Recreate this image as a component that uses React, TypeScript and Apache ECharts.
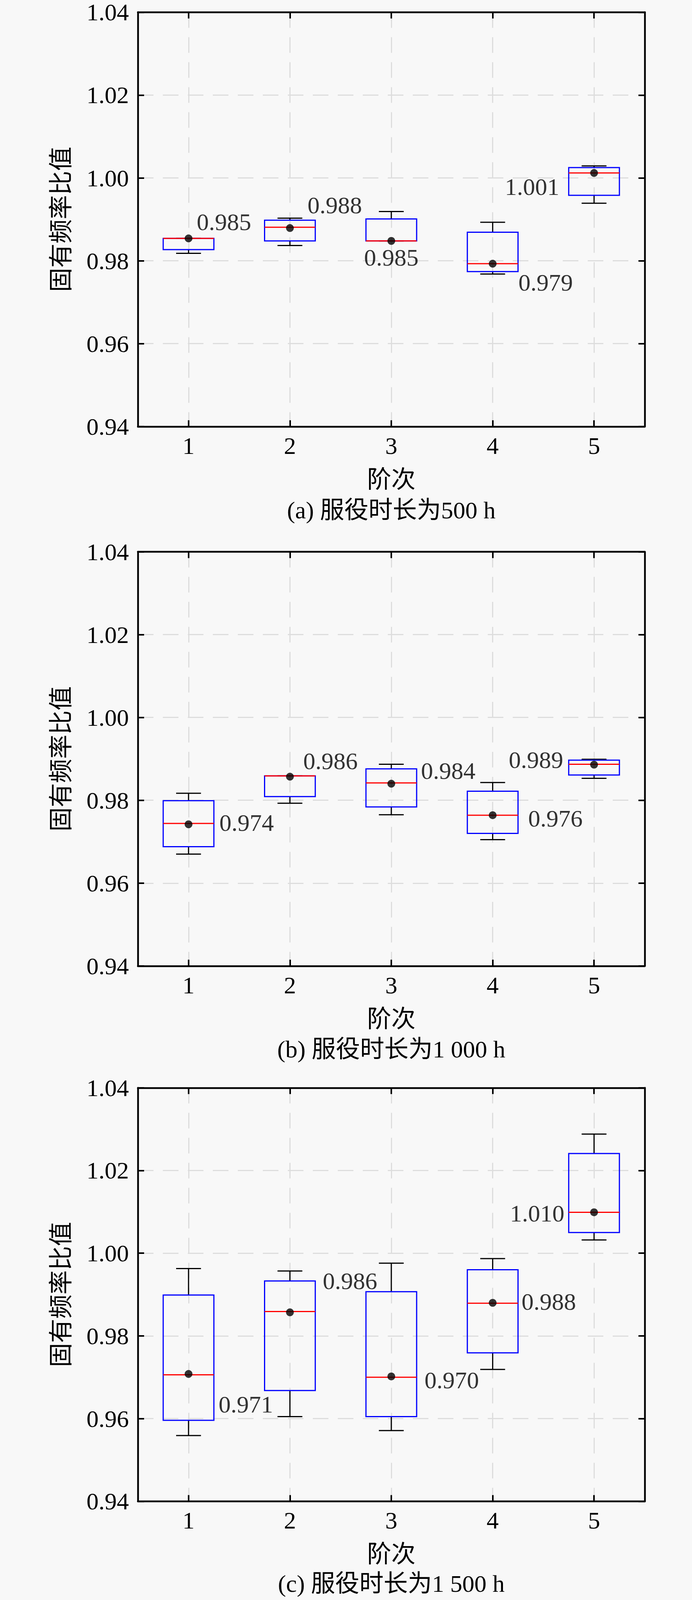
import React, { useEffect, useRef } from 'react';
import * as echarts from 'echarts';

// ---------------- data ----------------
const CATEGORIES = ['1', '2', '3', '4', '5'];
const Y_MIN = 0.94;
const Y_MAX = 1.04;
const Y_STEP = 0.02;

// (a) 500 h
const A_MIN = [0.9818, 0.9837, 0.9848, 0.9768, 0.9939];
const A_Q1 = [0.9827, 0.9848, 0.9848, 0.9774, 0.9958];
const A_MED = [0.9854, 0.9881, 0.9848, 0.9793, 1.0012];
const A_Q3 = [0.9854, 0.9898, 0.9901, 0.9869, 1.0025];
const A_MAX = [0.9854, 0.9903, 0.9919, 0.9893, 1.0029];
const A_MEAN = [0.9854, 0.9879, 0.9848, 0.9793, 1.0012];

// (b) 1 000 h
const B_MIN = [0.967, 0.9793, 0.9765, 0.9705, 0.9853];
const B_Q1 = [0.9688, 0.9809, 0.9784, 0.972, 0.9861];
const B_MED = [0.9744, 0.9859, 0.9842, 0.9764, 0.9887];
const B_Q3 = [0.9799, 0.9859, 0.9876, 0.9822, 0.9897];
const B_MAX = [0.9817, 0.9859, 0.9887, 0.9843, 0.9899];
const B_MEAN = [0.9742, 0.9857, 0.984, 0.9764, 0.9886];

// (c) 1 500 h
const C_MIN = [0.9559, 0.9605, 0.9571, 0.9719, 1.0032];
const C_Q1 = [0.9596, 0.9668, 0.9605, 0.9759, 1.005];
const C_MED = [0.9706, 0.9859, 0.97, 0.9879, 1.0099];
const C_Q3 = [0.9899, 0.9933, 0.9907, 0.996, 1.0241];
const C_MAX = [0.9963, 0.9957, 0.9976, 0.9987, 1.0288];
const C_MEAN = [0.9708, 0.9857, 0.9702, 0.988, 1.0099];

const CAPTIONS = ['(a) 服役时长为500 h', '(b) 服役时长为1 000 h', '(c) 服役时长为1 500 h'];
const X_NAME = '阶次';
const Y_NAME = '固有频率比值';

const PANELS = [
  { min: A_MIN, q1: A_Q1, med: A_MED, q3: A_Q3, max: A_MAX, mean: A_MEAN },
  { min: B_MIN, q1: B_Q1, med: B_MED, q3: B_Q3, max: B_MAX, mean: B_MEAN },
  { min: C_MIN, q1: C_Q1, med: C_MED, q3: C_Q3, max: C_MAX, mean: C_MEAN },
];

// ---------------- layout / style (reference pixel units) ----------------
const W = 1772;
const REF_H = 4378;
const GRID_LEFT = 353;
const GRID_WIDTH = 1298;
const GRID_TOPS = [33.5, 1510, 2976.5];
const GRID_HEIGHTS = [1133.5, 1133, 1131.5];
const CAPTION_Y = [1396, 2871, 4333];
const X_NAME_CENTER = 139; // distance from x axis to centre of x-axis name
const CENTER_X = GRID_LEFT + GRID_WIDTH / 2;

// label anchor: [align, dx, dy] relative to the mean dot
const LABEL_LAYOUT: [string, number, number][][] = [
  [['left', 21, -45], ['left', 45, -63], ['center', 0, 45], ['left', 66, 51], ['right', -89, 38]],
  [['left', 79, -5], ['left', 34, -43], ['left', 76, -36], ['left', 91, 9], ['right', -79, -13]],
  [['left', 77, 83], ['left', 84, -86], ['left', 85, 10], ['left', 74, -4], ['right', -76, 3]],
];

const SERIF = "'Liberation Serif', 'Times New Roman', serif";
const CJK = "'Noto Sans CJK SC', sans-serif";
const MIXED = "'Liberation Serif', 'Noto Sans CJK SC', serif";
const FS = 62;
const BG = '#f8f8f8';
const GRID_COLOR = '#dddddd';
const AXIS_W = 4.5;
const LINE_W = 3;

function renderBox(params: any, api: any) {
  const i = api.value(0);
  const lo = api.coord([i, api.value(1)]);
  const q1 = api.coord([i, api.value(2)]);
  const med = api.coord([i, api.value(3)]);
  const q3 = api.coord([i, api.value(4)]);
  const hi = api.coord([i, api.value(5)]);
  const band = api.size([1, 0])[0];
  const bw = band * 0.5;
  const cw = band * 0.245;
  const x = q1[0];
  const black = { stroke: '#000', lineWidth: LINE_W };
  return {
    type: 'group',
    children: [
      { type: 'line', shape: { x1: x, y1: q1[1], x2: x, y2: lo[1] }, style: black },
      { type: 'line', shape: { x1: x - cw / 2, y1: lo[1], x2: x + cw / 2, y2: lo[1] }, style: black },
      { type: 'line', shape: { x1: x, y1: q3[1], x2: x, y2: hi[1] }, style: black },
      { type: 'line', shape: { x1: x - cw / 2, y1: hi[1], x2: x + cw / 2, y2: hi[1] }, style: black },
      {
        type: 'rect',
        shape: { x: x - bw / 2, y: q3[1], width: bw, height: q1[1] - q3[1] },
        style: { fill: 'none', stroke: '#0000ff', lineWidth: LINE_W },
      },
      {
        type: 'line',
        shape: { x1: x - bw / 2, y1: med[1], x2: x + bw / 2, y2: med[1] },
        style: { stroke: '#ff0000', lineWidth: LINE_W },
      },
    ],
  };
}

function buildOption(sy: number) {
  const grid: any[] = [];
  const xAxis: any[] = [];
  const yAxis: any[] = [];
  const series: any[] = [];
  const graphic: any[] = [];
  const axisLine = { show: true, onZero: false, lineStyle: { color: '#000', width: AXIS_W } };
  const axisTick = { show: true, inside: true, length: 16, lineStyle: { color: '#000', width: 4 } };
  const splitLine = { show: true, lineStyle: { color: GRID_COLOR, width: 3, type: [40, 24] } };

  PANELS.forEach((p, k) => {
    grid.push({
      left: GRID_LEFT,
      top: GRID_TOPS[k] * sy,
      width: GRID_WIDTH,
      height: GRID_HEIGHTS[k] * sy,
      containLabel: false,
    });
    xAxis.push({
      type: 'category',
      gridIndex: k,
      data: CATEGORIES,
      position: 'bottom',
      boundaryGap: true,
      axisLine,
      axisTick: { ...axisTick, alignWithLabel: true },
      axisLabel: {
        show: true,
        margin: 19 * sy,
        fontSize: FS,
        lineHeight: FS,
        fontFamily: SERIF,
        color: '#000',
      },
      splitLine: { ...splitLine, alignWithLabel: true },
      name: X_NAME,
      nameLocation: 'middle',
      nameGap: X_NAME_CENTER * sy - FS / 2,
      nameTextStyle: { fontSize: FS, lineHeight: FS, fontFamily: CJK, color: '#000' },
    });
    xAxis.push({
      type: 'category',
      gridIndex: k,
      data: CATEGORIES,
      position: 'top',
      boundaryGap: true,
      axisLine,
      axisTick: { ...axisTick, alignWithLabel: true },
      axisLabel: { show: false },
      splitLine: { show: false },
    });
    yAxis.push({
      type: 'value',
      gridIndex: k,
      min: Y_MIN,
      max: Y_MAX,
      interval: Y_STEP,
      position: 'left',
      axisLine,
      axisTick,
      axisLabel: {
        show: true,
        margin: 23,
        fontSize: FS,
        lineHeight: 48,
        fontFamily: SERIF,
        color: '#000',
        formatter: (v: number) => v.toFixed(2),
      },
      splitLine,
      name: Y_NAME,
      nameLocation: 'middle',
      nameRotate: 90,
      nameGap: 171,
      nameTextStyle: { fontSize: FS, lineHeight: FS, fontFamily: CJK, color: '#000' },
    });
    yAxis.push({
      type: 'value',
      gridIndex: k,
      min: Y_MIN,
      max: Y_MAX,
      interval: Y_STEP,
      position: 'right',
      axisLine,
      axisTick,
      axisLabel: { show: false },
      splitLine: { show: false },
    });
    series.push({
      type: 'custom',
      xAxisIndex: 2 * k,
      yAxisIndex: 2 * k,
      renderItem: renderBox,
      silent: true,
      z: 3,
      encode: { x: 0, y: [1, 2, 3, 4, 5] },
      data: CATEGORIES.map((_, i) => [i, p.min[i], p.q1[i], p.med[i], p.q3[i], p.max[i]]),
    });
    series.push({
      type: 'scatter',
      xAxisIndex: 2 * k,
      yAxisIndex: 2 * k,
      symbol: 'circle',
      symbolSize: 20,
      silent: true,
      z: 5,
      itemStyle: { color: '#000' },
      label: {
        show: true,
        position: 'inside',
        fontSize: FS,
        lineHeight: FS,
        fontFamily: SERIF,
        color: '#000',
        textBorderWidth: 0,
        verticalAlign: 'middle',
        formatter: (pr: any) => Number(pr.value[1]).toFixed(3),
      },
      data: p.mean.map((m, i) => ({
        value: [i, m],
        label: {
          align: LABEL_LAYOUT[k][i][0],
          offset: [LABEL_LAYOUT[k][i][1], LABEL_LAYOUT[k][i][2] * sy],
        },
      })),
    });
    graphic.push({
      type: 'text',
      x: CENTER_X,
      y: CAPTION_Y[k] * sy,
      style: {
        text: CAPTIONS[k],
        fontSize: FS,
        lineHeight: FS,
        fontFamily: MIXED,
        fill: '#000',
        align: 'center',
        verticalAlign: 'middle',
        textAlign: 'center',
        textVerticalAlign: 'middle',
      },
    });
  });

  return {
    animation: false,
    backgroundColor: BG,
    grid,
    xAxis,
    yAxis,
    series,
    graphic,
  };
}

function viewportHeight() {
  const h = typeof window !== 'undefined' ? window.innerHeight : REF_H;
  if (!h || h <= 0) return REF_H;
  return Math.min(h, REF_H);
}

export default function App() {
  const ref = useRef<HTMLDivElement>(null);
  const h = viewportHeight();
  useEffect(() => {
    document.body.style.margin = '0';
    document.body.style.background = BG;
    document.documentElement.style.background = BG;
    const chart = echarts.init(ref.current!, null, { renderer: 'svg', width: W, height: h });
    chart.setOption(buildOption(h / REF_H) as any);
    return () => chart.dispose();
  }, []);
  return <div ref={ref} style={{ width: W, height: h, background: BG, overflow: 'hidden' }} />;
}
